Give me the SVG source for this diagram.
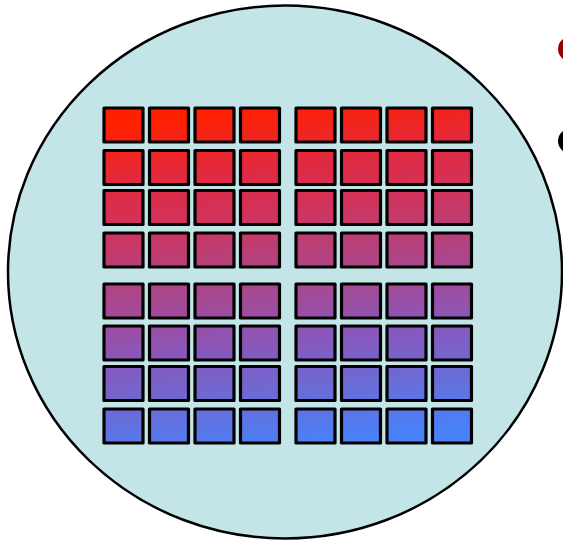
<svg xmlns="http://www.w3.org/2000/svg" width="563" height="540" viewBox="0 0 563 540">
<defs>
<linearGradient id="g" gradientUnits="userSpaceOnUse" x1="265" y1="107" x2="305" y2="443">
<stop offset="0" stop-color="#ff2000"/>
<stop offset="0.18" stop-color="#e02a42"/>
<stop offset="0.30" stop-color="#d2325a"/>
<stop offset="0.43" stop-color="#b84078"/>
<stop offset="0.58" stop-color="#a04c9c"/>
<stop offset="0.70" stop-color="#8858bc"/>
<stop offset="0.82" stop-color="#7068d0"/>
<stop offset="1" stop-color="#4a80f8"/>
</linearGradient>
<style>
.c{fill:url(#g);stroke:#000;stroke-width:3.2;stroke-linejoin:round}
</style>
</defs>
<rect width="563" height="540" fill="#fff"/>
<g id="wafer">
<ellipse cx="285" cy="272" rx="277" ry="266.5" fill="#c4e5e7" stroke="#000" stroke-width="2.5"/>
</g>
<g id="bullets">
<ellipse cx="572" cy="49" rx="14" ry="13" fill="#990000"/>
<ellipse cx="572" cy="141" rx="14" ry="13" fill="#000"/>
</g>
<g id="dies">
<g id="r1">
<rect class="c" x="104" y="108" width="39" height="34"/><rect class="c" x="149.5" y="108" width="39" height="34"/><rect class="c" x="195" y="108" width="39" height="34"/><rect class="c" x="240.5" y="108" width="39" height="34"/>
<rect class="c" x="296" y="108" width="39" height="34"/><rect class="c" x="341.5" y="108" width="39" height="34"/><rect class="c" x="387" y="108" width="39" height="34"/><rect class="c" x="432.5" y="108" width="39" height="34"/>
</g>
<g id="r2">
<rect class="c" x="104" y="150.5" width="39" height="34"/><rect class="c" x="149.5" y="150.5" width="39" height="34"/><rect class="c" x="195" y="150.5" width="39" height="34"/><rect class="c" x="240.5" y="150.5" width="39" height="34"/>
<rect class="c" x="296" y="150.5" width="39" height="34"/><rect class="c" x="341.5" y="150.5" width="39" height="34"/><rect class="c" x="387" y="150.5" width="39" height="34"/><rect class="c" x="432.5" y="150.5" width="39" height="34"/>
</g>
<g id="r3">
<rect class="c" x="104" y="190.5" width="39" height="34"/><rect class="c" x="149.5" y="190.5" width="39" height="34"/><rect class="c" x="195" y="190.5" width="39" height="34"/><rect class="c" x="240.5" y="190.5" width="39" height="34"/>
<rect class="c" x="296" y="190.5" width="39" height="34"/><rect class="c" x="341.5" y="190.5" width="39" height="34"/><rect class="c" x="387" y="190.5" width="39" height="34"/><rect class="c" x="432.5" y="190.5" width="39" height="34"/>
</g>
<g id="r4">
<rect class="c" x="104" y="233" width="39" height="34"/><rect class="c" x="149.5" y="233" width="39" height="34"/><rect class="c" x="195" y="233" width="39" height="34"/><rect class="c" x="240.5" y="233" width="39" height="34"/>
<rect class="c" x="296" y="233" width="39" height="34"/><rect class="c" x="341.5" y="233" width="39" height="34"/><rect class="c" x="387" y="233" width="39" height="34"/><rect class="c" x="432.5" y="233" width="39" height="34"/>
</g>
<g id="r5">
<rect class="c" x="104" y="284" width="39" height="34"/><rect class="c" x="149.5" y="284" width="39" height="34"/><rect class="c" x="195" y="284" width="39" height="34"/><rect class="c" x="240.5" y="284" width="39" height="34"/>
<rect class="c" x="296" y="284" width="39" height="34"/><rect class="c" x="341.5" y="284" width="39" height="34"/><rect class="c" x="387" y="284" width="39" height="34"/><rect class="c" x="432.5" y="284" width="39" height="34"/>
</g>
<g id="r6">
<rect class="c" x="104" y="326" width="39" height="34"/><rect class="c" x="149.5" y="326" width="39" height="34"/><rect class="c" x="195" y="326" width="39" height="34"/><rect class="c" x="240.5" y="326" width="39" height="34"/>
<rect class="c" x="296" y="326" width="39" height="34"/><rect class="c" x="341.5" y="326" width="39" height="34"/><rect class="c" x="387" y="326" width="39" height="34"/><rect class="c" x="432.5" y="326" width="39" height="34"/>
</g>
<g id="r7">
<rect class="c" x="104" y="366.5" width="39" height="34"/><rect class="c" x="149.5" y="366.5" width="39" height="34"/><rect class="c" x="195" y="366.5" width="39" height="34"/><rect class="c" x="240.5" y="366.5" width="39" height="34"/>
<rect class="c" x="296" y="366.5" width="39" height="34"/><rect class="c" x="341.5" y="366.5" width="39" height="34"/><rect class="c" x="387" y="366.5" width="39" height="34"/><rect class="c" x="432.5" y="366.5" width="39" height="34"/>
</g>
<g id="r8">
<rect class="c" x="104" y="409" width="39" height="34"/><rect class="c" x="149.5" y="409" width="39" height="34"/><rect class="c" x="195" y="409" width="39" height="34"/><rect class="c" x="240.5" y="409" width="39" height="34"/>
<rect class="c" x="296" y="409" width="39" height="34"/><rect class="c" x="341.5" y="409" width="39" height="34"/><rect class="c" x="387" y="409" width="39" height="34"/><rect class="c" x="432.5" y="409" width="39" height="34"/>
</g>
</g>
</svg>
